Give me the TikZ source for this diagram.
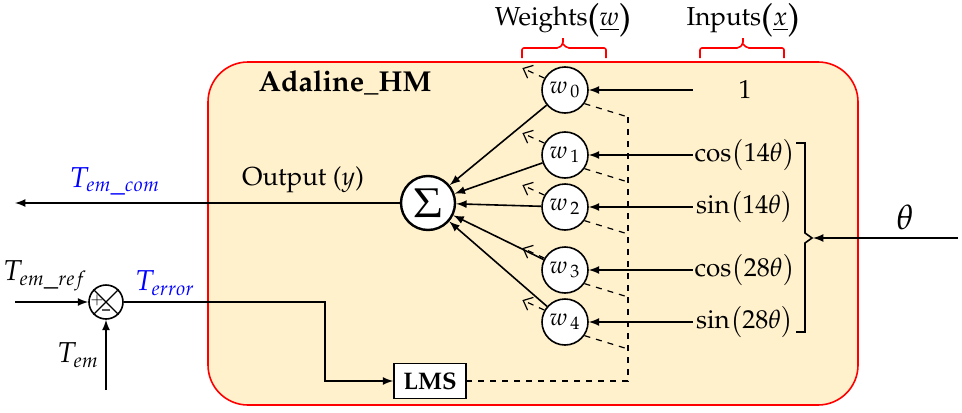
\documentclass[tikz,border=0pt]{standalone}
\usepackage[T1]{fontenc}
\usepackage{mathpazo}
\usetikzlibrary{arrows,arrows.meta,positioning,calc}
\definecolor{adalfill}{RGB}{255,241,204}
\newcommand{\hdlpar}{\raisebox{-2pt}{\fontsize{18}{18}\selectfont(}}
\newcommand{\hdrpar}{\raisebox{-2pt}{\fontsize{18}{18}\selectfont)}}

\begin{document}
\begin{tikzpicture}[
    x=0.5pt, y=-0.5pt,
    adalbox/.style={rectangle, draw=red, thick, fill=adalfill, rounded corners=20pt, minimum width=325pt, minimum height=171.5pt},
    weight/.style={circle, draw, thick, fill=white, minimum size=23pt, inner sep=0pt, font=\large},
    sumnode/.style={circle, draw, very thick, fill=white, minimum size=27pt, inner sep=0pt, font=\huge},
    junction/.style={circle, draw, thick, fill=white, minimum size=17pt, inner sep=0pt},
    txt/.style={font=\fontsize{13}{15}\selectfont},
    inputtxt/.style={txt, minimum width=52pt, inner sep=0pt},
    lmsbox/.style={rectangle, draw, thick, fill=white, minimum width=36pt, minimum height=17.5pt, inner sep=0pt, font=\large\bfseries},
    arrow/.style={-latex, thick},
    dashline/.style={dashed, semithick},
    dasharrow/.style={-{Straight Barb[length=4pt,width=7pt]}, dashed, semithick},
    bracket/.style={red, thick, rounded corners=1pt},
    label/.style={font=\Large}
]
\useasboundingbox (0,0) rectangle (962,412);

% Adaline block
\node[adalbox] (adal) at (533,233.5) {};
\node[font=\Large\bfseries] (title) at (345,83) {Adaline\_HM};

% Weights and Inputs headers
\node[txt, inner sep=0pt] (wlab) at (563,20) {Weights\hdlpar$\underline{w}$\hdrpar};
\node[txt, inner sep=0pt] (xlab) at (743,20) {Inputs\hdlpar$\underline{x}$\hdrpar};
\draw[bracket] (522,58) |- (559,48) -- (563,44) -- (563,38) (563,44) -- (567,48) -| (606,58);
\draw[bracket] (700,58) |- (739,48) -- (743,44) -- (743,38) (743,44) -- (747,48) -| (784,58);

% Weight nodes
\node[weight] (w0) at (565,90) {$w_{\,0}$};
\node[weight] (w1) at (565,155) {$w_{\,1}$};
\node[weight] (w2) at (565,207) {$w_{\,2}$};
\node[weight] (w3) at (565,270) {$w_{\,3}$};
\node[weight] (w4) at (565,322) {$w_{\,4}$};

% Inputs
\node[inputtxt] (x0) at (745,90) {1};
\node[inputtxt] (x1) at (745,155) {$\cos\bigl(14\theta\bigr)$};
\node[inputtxt] (x2) at (745,207) {$\sin\bigl(14\theta\bigr)$};
\node[inputtxt] (x3) at (745,270) {$\cos\bigl(28\theta\bigr)$};
\node[inputtxt] (x4) at (745,322) {$\sin\bigl(28\theta\bigr)$};

\draw[arrow] (x0.west) -- (w0.east);
\draw[arrow] (x1.west) -- (w1.east);
\draw[arrow] (x2.west) -- (w2.east);
\draw[arrow] (x3.west) -- (w3.east);
\draw[arrow] (x4.west) -- (w4.east);

% Theta bracket
\draw[thick] (796,143) -| (805,233) -- (812,238) -- (805,243) |- (796,332);
\coordinate (brtip) at (813,238);
\coordinate (thetain) at (958,238);
\draw[arrow] (thetain) -- (brtip);
\node[font=\LARGE] (theta) at (905,217) {$\theta$};

% Summation
\node[sumnode] (sum) at (428,203) {$\Sigma$};
\draw[arrow] (w0) -- (sum);
\draw[arrow] (w1) -- (sum);
\draw[arrow] (w2) -- (sum);
\draw[arrow] (w3) -- (sum);
\draw[arrow] (w4) -- (sum);

% Output
\coordinate (yout) at (15,203);
\draw[arrow] (sum) -- (yout);
\node[txt] (outlab) at (303,180) {Output ($y$)};
\node[label, blue] (temcom) at (115,181) {$T_{em\_com}$};

% LMS update
\node[lmsbox] (lms) at (430,381) {LMS};
\coordinate (d0) at (628,117);
\coordinate (d1) at (628,182);
\coordinate (d2) at (628,234);
\coordinate (d3) at (628,297);
\coordinate (d4) at (628,349);
\draw[dashline] (w0.-35) -- (d0);
\draw[dashline] (w1.-35) -- (d1);
\draw[dashline] (w2.-35) -- (d2);
\draw[dashline] (w3.-35) -- (d3);
\draw[dashline] (w4.-35) -- (d4);
\draw[dashline] (d0) |- (lms.east);
\draw[dasharrow] (w0.150) -- ++(-22,-10);
\draw[dasharrow] (w1.150) -- ++(-22,-10);
\draw[dasharrow] (w2.150) -- ++(-22,-10);
\draw[dasharrow] (w3.150) -- ++(-22,-10);
\draw[dasharrow] (w4.150) -- ++(-22,-10);

% Error junction
\node[junction] (sj) at (106,302) {};
\draw[semithick] (sj.45) -- (sj.225) (sj.135) -- (sj.315);
\node[font=\footnotesize, inner sep=0pt] (plus) at (97,300) {$+$};
\node[font=\footnotesize\bfseries, inner sep=0pt] (minus) at (106,312) {--};
\coordinate (refin) at (15,302);
\coordinate (temin) at (106,390);
\draw[arrow] (refin) -- (sj.west);
\draw[arrow] (temin) -- (sj.south);
\node[label] (temref) at (45,276) {$T_{em\_ref}$};
\node[label] (tem) at (78,355) {$T_{em}$};
\node[label, blue] (terr) at (165,283) {$T_{error}$};
\coordinate (errbend) at (325,302);
\draw[arrow] (sj.east) -- (errbend) |- (lms.west);

\end{tikzpicture}
\end{document}
